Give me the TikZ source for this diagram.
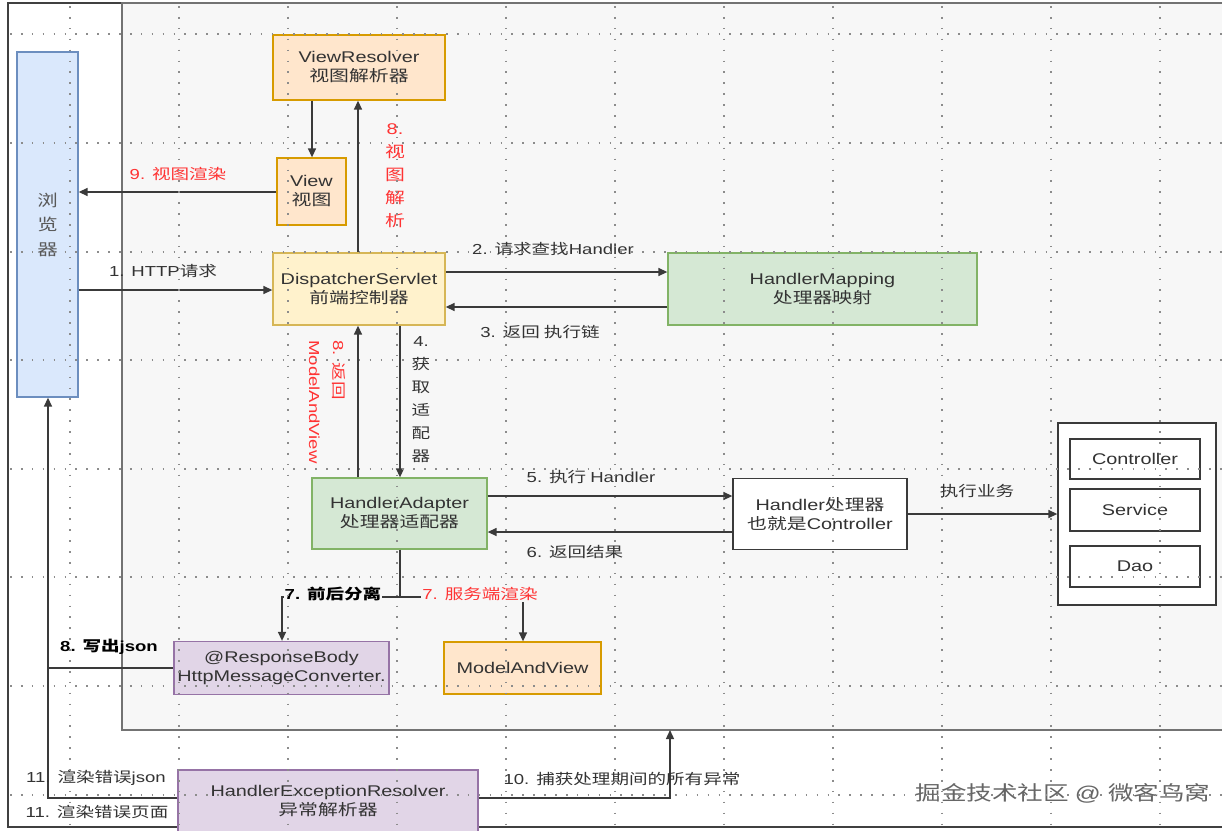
\documentclass[tikz,border=0pt]{standalone}
\usepackage{fontspec}
\setmainfont[FakeStretch=1.28]{Liberation Sans}
\newfontfamily\cjk[FakeStretch=1.28]{Noto Sans CJK SC}
\newfontfamily\lat[FakeStretch=1.28]{Liberation Sans}
\newXeTeXintercharclass\zhclass
\makeatletter
\count@="4E00
\loop\ifnum\count@<"A000 \XeTeXcharclass\count@=\zhclass \advance\count@ 1 \repeat
\makeatother
\XeTeXinterchartokenstate=1
\XeTeXinterchartoks 0 \zhclass = {\cjk}
\XeTeXinterchartoks 4095 \zhclass = {\cjk}
\XeTeXinterchartoks \zhclass 0 = {\lat}
\XeTeXinterchartoks 4095 0 = {\lat}
\usetikzlibrary{arrows.meta}
\definecolor{innerbg}{HTML}{F7F7F7}
\definecolor{txt}{HTML}{333333}
\definecolor{redt}{HTML}{FF3333}
\definecolor{blueF}{HTML}{DAE8FC}\definecolor{blueD}{HTML}{6C8EBF}
\definecolor{orF}{HTML}{FFE6CC}\definecolor{orD}{HTML}{D79B00}
\definecolor{yeF}{HTML}{FFF2CC}\definecolor{yeD}{HTML}{D6B656}
\definecolor{grF}{HTML}{D5E8D4}\definecolor{grD}{HTML}{82B366}
\definecolor{puF}{HTML}{E1D5E7}\definecolor{puD}{HTML}{9673A6}
\definecolor{ln}{HTML}{3A3A3A}
\definecolor{gridc}{HTML}{8C8C8C}
\begin{document}
\begin{tikzpicture}[x=1pt,y=-1pt,
  box/.style={draw,line width=1.3pt,inner sep=0pt,align=center,text=txt,font=\fontsize{15.5}{19}\selectfont},
  bluebox/.style={box,fill=blueF,draw=blueD},
  orbox/.style={box,fill=orF,draw=orD},
  yebox/.style={box,fill=yeF,draw=yeD},
  grbox/.style={box,fill=grF,draw=grD},
  pubox/.style={box,fill=puF,draw=puD},
  whbox/.style={box,fill=white,draw=ln},
  conn/.style={draw=ln,line width=1.4pt,-{Triangle[length=9pt,width=8pt]}},
  plain/.style={draw=ln,line width=1.4pt},
  lbl/.style={text=txt,font=\fontsize{14.5}{17}\selectfont,inner sep=1pt},
  rlbl/.style={lbl,text=redt},
  gridline/.style={draw=gridc,line width=1.6pt,dash pattern=on 1.6pt off 9.3pt}
]
\useasboundingbox (0,0) rectangle (1222,830);
\fill[white] (0,0) rectangle (1222,830);
\draw[line width=2.5pt,black!75] (8,3) rectangle (1240,827);
\filldraw[fill=innerbg,draw=black!55,line width=1.5pt] (122,3) rectangle (1240,730);
\coordinate (frameB) at (670,730);

% nodes
\node[bluebox,minimum width=61pt,minimum height=345pt,text=black!65,font=\fontsize{16}{24.5}\selectfont] (browser) at (47.5,224.5) {浏\\览\\器};
\node[orbox,minimum width=172pt,minimum height=65pt] (viewres) at (359,67.5) {ViewResolver\\视图解析器};
\node[orbox,minimum width=69pt,minimum height=67pt] (view) at (311.5,191.5) {View\\视图};
\node[yebox,minimum width=172pt,minimum height=72pt] (disp) at (359,289) {DispatcherServlet\\前端控制器};
\node[grbox,minimum width=309pt,minimum height=72pt] (hmap) at (822.5,289) {HandlerMapping\\处理器映射};
\node[grbox,minimum width=175pt,minimum height=71pt] (hadapt) at (399.5,513.5) {HandlerAdapter\\处理器适配器};
\node[whbox,minimum width=174pt,minimum height=71pt] (handler) at (820,514) {Handler处理器\\也就是Controller};
\node[whbox,minimum width=158pt,minimum height=182pt] (biz) at (1137,514) {};
\node[whbox,minimum width=130pt,minimum height=40pt] (ctrl) at (1135,459) {Controller};
\node[whbox,minimum width=130pt,minimum height=42pt] (svc) at (1135,510) {Service};
\node[whbox,minimum width=130pt,minimum height=41pt] (dao) at (1135,566.5) {Dao};
\node[pubox,minimum width=215pt,minimum height=53pt] (respbody) at (281.5,668) {@ResponseBody\\HttpMessageConverter.};
\node[orbox,minimum width=157pt,minimum height=52pt] (mav) at (522.5,668) {ModelAndView};
\node[pubox,minimum width=300pt,minimum height=62pt] (hexc) at (328,801) {HandlerExceptionResolver\\异常解析器};

% connectors
\draw[conn] (browser.east |- 0,290) -- (disp.west |- 0,290);
\draw[conn] (disp.east |- 0,272) -- (hmap.west |- 0,272);
\draw[conn] (hmap.west |- 0,307) -- (disp.east |- 0,307);
\draw[conn] (disp.south -| 400,0) -- (hadapt.north -| 400,0);
\draw[conn] (hadapt.north -| 358,0) -- (disp.south -| 358,0);
\draw[conn] (disp.north -| 358,0) -- (viewres.south -| 358,0);
\draw[conn] (viewres.south -| 312,0) -- (view.north -| 312,0);
\draw[conn] (view.west |- 0,192) -- (browser.east |- 0,192);
\draw[conn] (hadapt.east |- 0,496) -- (handler.west |- 0,496);
\draw[conn] (handler.west |- 0,532) -- (hadapt.east |- 0,532);
\draw[conn] (handler.east |- 0,514) -- (biz.west |- 0,514);
\draw[plain] (hadapt.south -| 400,0) -- (400,597) coordinate (split);
\draw[conn] (split) -| (respbody.north -| 282,0);
\draw[conn] (split) -| (mav.north -| 523,0);
\draw[conn] (respbody.west) -| (browser.south -| 48,0);
\draw[plain] (hexc.west |- 0,798) -| (48,668);
\draw[conn] (hexc.east |- 0,798) -| (frameB);

% labels
\node[lbl] at (163,271) {1. HTTP请求};
\node[rlbl] at (178,174) {9. 视图渲染};
\node[lbl] at (553,249) {2. 请求查找Handler};
\node[lbl] at (540,332) {3. 返回 执行链};
\node[lbl,align=center,font=\fontsize{14.5}{23}\selectfont] at (421,400) {4.\\获\\取\\适\\配\\器};
\node[rlbl,align=center,font=\fontsize{15.5}{23}\selectfont] at (395,176) {8.\\视\\图\\解\\析};
\node[rlbl,rotate=-90,align=left,font=\fontsize{14.5}{24}\selectfont] at (327,402) {8. 返回\\ModelAndView};
\node[lbl] at (591,477) {5. 执行 Handler};
\node[lbl] at (575,552) {6. 返回结果};
\node[lbl] at (977,491) {执行业务};
\node[lbl,fill=innerbg,font=\fontsize{14.5}{17}\selectfont\bfseries,text=black] at (333,594) {7. 前后分离};
\node[rlbl,fill=innerbg] at (480,594) {7. 服务端渲染};
\node[lbl,font=\fontsize{14.5}{17}\selectfont\bfseries,text=black] at (109,647) {8. 写出json};
\node[lbl] at (96,778) {11. 渲染错误json};
\node[lbl] at (97,812) {11. 渲染错误页面};
\node[lbl] at (622,779) {10. 捕获处理期间的所有异常};
\node[text=black!60,font=\fontsize{20}{24}\selectfont] at (1063,793) {掘金技术社区 @ 微客鸟窝};

% grid overlay
\foreach \x in {70,179,288,397,506,615,724,833,942,1051,1160}
  \draw[gridline] (\x,6) -- (\x,828);
\foreach \y in {34,143,252,360,469,577,686,795}
  \draw[gridline] (10,\y) -- (1222,\y);
\end{tikzpicture}
\end{document}
